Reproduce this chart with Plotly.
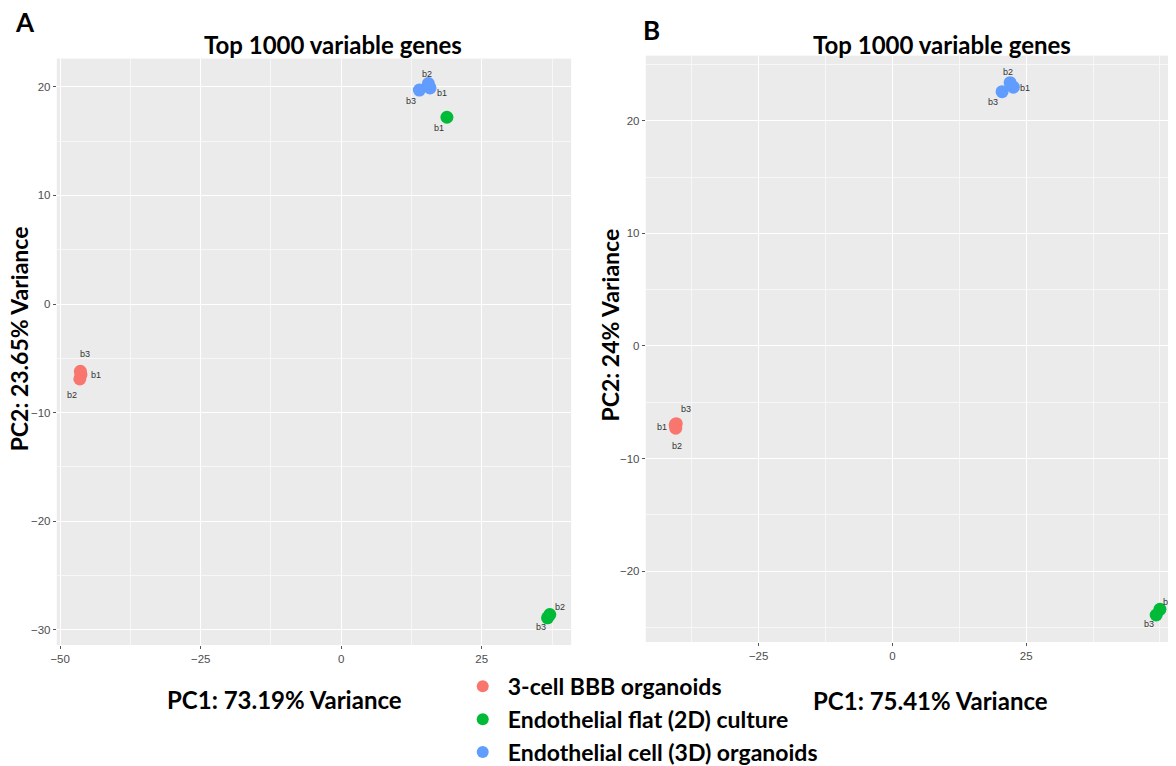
import plotly.graph_objects as go

# ---------------- data ----------------
groups = ["3-cell BBB organoids", "Endothelial flat (2D) culture", "Endothelial cell (3D) organoids"]
colors = ["#F8766D", "#00BA38", "#619CFF"]

# Panel A  (PC1 73.19 %, PC2 23.65 %)
a_red_x = [-46.3, -46.5, -46.4]
a_red_y = [-6.5, -6.9, -6.2]
a_red_lab = ["b1", "b2", "b3"]
a_green_x = [18.8, 37.1, 36.7]
a_green_y = [17.2, -28.6, -28.9]
a_green_lab = ["b1", "b2", "b3"]
a_blue_x = [15.8, 15.5, 13.9]
a_blue_y = [19.9, 20.3, 19.7]
a_blue_lab = ["b1", "b2", "b3"]

# Panel B  (PC1 75.41 %, PC2 24 %)
b_red_x = [-40.6, -40.5, -40.4]
b_red_y = [-7.0, -7.3, -6.9]
b_red_lab = ["b1", "b2", "b3"]
b_green_x = [50.0, 49.3]
b_green_y = [-23.4, -23.9]
b_green_lab = ["b2", "b3"]
b_blue_x = [22.6, 22.0, 20.5]
b_blue_y = [23.0, 23.4, 22.6]
b_blue_lab = ["b1", "b2", "b3"]

a_xticks = [-50, -25, 0, 25]
a_yticks = [-30, -20, -10, 0, 10, 20]
b_xticks = [-25, 0, 25]
b_yticks = [-20, -10, 0, 10, 20]

# label pixel offsets (style)
a_off = {
    "red": [(15, 0), (-8, 16), (5, -17)],
    "green": [(-8, 11), (10, -8), (-7, 9)],
    "blue": [(12, 5), (-1, -10), (-8, 11)],
}
b_off = {
    "red": [(-13, 2), (1, 18), (10, -15)],
    "green": [(8, -7), (-7, 9)],
    "blue": [(12, 1), (-2, -11), (-9, 10)],
}

W, H = 1176, 766
OFF = 8  # page body margin of the html page


def X(px):
    return (px - OFF) / W


def Y(py):
    return 1 - (py - OFF) / H


fig = go.Figure()


def add_panel(xs_list, ys_list, labs_list, offs, xa, ya, showleg):
    keys = ["red", "green", "blue"]
    for i, (xs, ys, labs) in enumerate(zip(xs_list, ys_list, labs_list)):
        fig.add_trace(go.Scatter(
            x=xs, y=ys, mode="markers", name="<b>" + groups[i] + "</b>",
            marker=dict(color=colors[i], size=13, line=dict(width=0)),
            xaxis=xa, yaxis=ya, showlegend=showleg, legendgroup=groups[i],
            hoverinfo="skip",
        ))
        for x, y, lab, (dx, dy) in zip(xs, ys, labs, offs[keys[i]]):
            fig.add_annotation(x=x, y=y, xref=xa, yref=ya, text=lab, showarrow=False,
                               xshift=dx, yshift=-dy,
                               font=dict(size=9, color="#333333", family="Liberation Sans"))


add_panel([a_red_x, a_green_x, a_blue_x], [a_red_y, a_green_y, a_blue_y],
          [a_red_lab, a_green_lab, a_blue_lab], a_off, "x", "y", True)
add_panel([b_red_x, b_green_x, b_blue_x], [b_red_y, b_green_y, b_blue_y],
          [b_red_lab, b_green_lab, b_blue_lab], b_off, "x2", "y2", False)

tickfont = dict(size=11.5, color="#4D4D4D", family="Liberation Sans")


def axis_common():
    return dict(showgrid=True, gridcolor="white", gridwidth=1.1, zeroline=False,
                ticks="outside", ticklen=3, tickcolor="#555555", tickwidth=1,
                tickfont=tickfont, showline=False, fixedrange=True)


def minor_vals(ticks, step, lo, hi):
    vals = []
    t = ticks[0] - step * 3
    while t <= hi:
        if lo <= t <= hi and all(abs(t - m) > 1e-9 for m in ticks):
            vals.append(t)
        t += step / 2
    return vals


a_xr = [-50.6, 40.9]
a_yr = [-31.4, 22.6]
b_xr = [-46.1, 54.5]
b_yr = [-26.3, 25.8]

minor_style = dict(showgrid=True, gridcolor="#F7F7F7", gridwidth=0.6, ticks="")

fig.update_layout(
    width=W, height=H,
    margin=dict(l=0, r=0, t=0, b=0),
    paper_bgcolor="white", plot_bgcolor="#EBEBEB",
    xaxis=dict(domain=[X(51), X(568)], range=a_xr, tickvals=a_xticks, anchor="y",
               minor=dict(tickvals=minor_vals(a_xticks, 25, *a_xr), **minor_style),
               **axis_common()),
    yaxis=dict(domain=[Y(650), Y(59)], range=a_yr, tickvals=a_yticks, anchor="x",
               minor=dict(tickvals=minor_vals(a_yticks, 10, *a_yr), **minor_style),
               **axis_common()),
    xaxis2=dict(domain=[X(643), 1.0], range=b_xr, tickvals=b_xticks, anchor="y2",
                minor=dict(tickvals=minor_vals(b_xticks, 25, *b_xr), **minor_style),
                **axis_common()),
    yaxis2=dict(domain=[Y(647), Y(56)], range=b_yr, tickvals=b_yticks, anchor="x2",
                minor=dict(tickvals=minor_vals(b_yticks, 10, *b_yr), **minor_style),
                **axis_common()),
    legend=dict(x=X(454), y=Y(670), xanchor="left", yanchor="top",
                font=dict(size=23, color="black", family="Lato"),
                bgcolor="rgba(0,0,0,0)", itemsizing="constant", itemwidth=40,
                tracegroupgap=0),
    showlegend=True,
)


def txt(x, y, s, size, angle=0):
    fig.add_annotation(x=X(x), y=Y(y), xref="paper", yref="paper", text=s,
                       showarrow=False, textangle=angle, xanchor="center", yanchor="middle",
                       font=dict(size=size, color="black", family="Lato"))


txt(19, 22, "<b>A</b>", 26)
txt(649, 30, "<b>B</b>", 26)
txt(329, 45, "<b>Top 1000 variable genes</b>", 24)
txt(941, 45, "<b>Top 1000 variable genes</b>", 24)
txt(13, 341, "<b>PC2: 23.65% Variance</b>", 23, angle=-90)
txt(607, 327, "<b>PC2: 24% Variance</b>", 23, angle=-90)
txt(280, 705, "<b>PC1: 73.19% Variance</b>", 24)
txt(929, 706, "<b>PC1: 75.41% Variance</b>", 24)

fig.write_html("out.html", config={"displayModeBar": False})
